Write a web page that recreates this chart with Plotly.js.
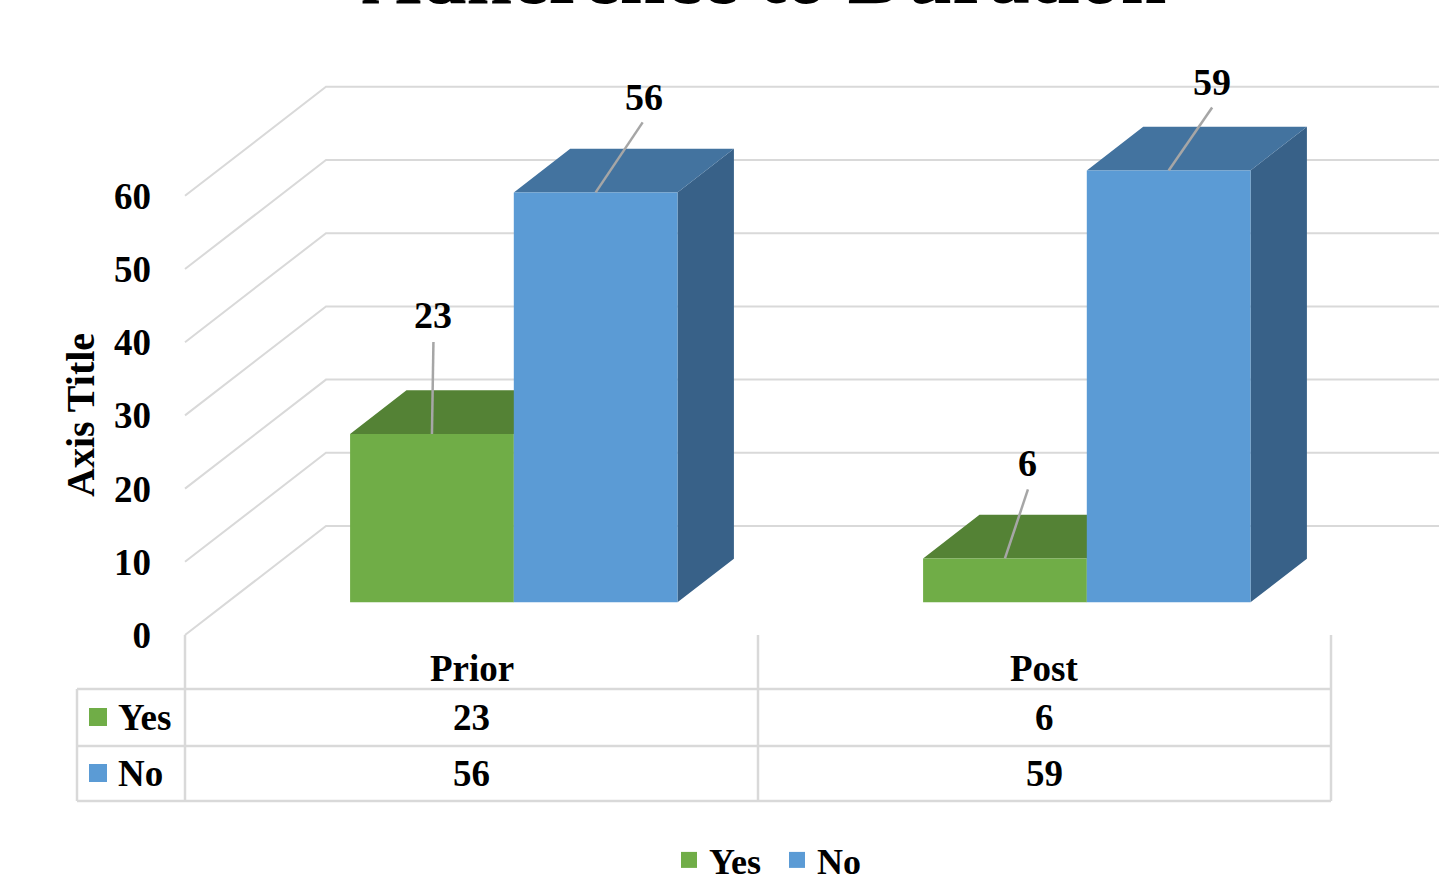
<!DOCTYPE html>
<html>
<head>
<meta charset="utf-8">
<script src="https://cdn.plot.ly/plotly-3.0.1.min.js"></script>
<style>
  html, body { margin: 0; padding: 0; background: #ffffff; }
  #chart { width: 1439px; height: 879px; }
</style>
</head>
<body>
<div id="chart"></div>
<script>
// ---- chart data ----
const categories = ['Prior', 'Post'];
const seriesNames = ['Yes', 'No'];
const yesValues = [23, 6];
const noValues = [56, 59];
const yTicks = [0, 10, 20, 30, 40, 50, 60];

// ---- styling ----
const FONT = 'Liberation Serif, Times New Roman, serif';
const GRID = '#d9d9d9';
const LEADER = '#a6a6a6';
const faceColors = [
  { front: '#70ad47', top: '#548235', side: '#4b7530' },   // Yes
  { front: '#5b9bd5', top: '#43739f', side: '#386188' }    // No
];
// manually placed data labels: pixel offsets from the bar's top edge centre
const labelOffsets = [
  [[1, -119], [23, -95]],   // Yes: Prior, Post
  [[48, -95], [43, -88]]    // No:  Prior, Post
];
const leaderEnds = [
  [[1.5, -92], [23, -69]],
  [[47, -70], [43.5, -63]]
];

// ---- oblique projection set-up ----
const W = 1439, H = 879;
const PX_PER_CAT = 573;      // front-plane pixels per category
const PX_PER_VAL = 7.32;     // front-plane pixels per value unit
const FLOOR_LEFT_PX = 185;   // left edge of the floor (front)
const ZERO_PX = 635;         // value 0 on the front plane
const WALL_DX_PX = 141, WALL_DY_PX = 109;  // full depth of the box
const depthX = WALL_DX_PX / PX_PER_CAT;
const depthY = WALL_DY_PX / PX_PER_VAL;
const BAR_W = 1 / 3.5;       // gap width 150%
const BAR_D0 = 0.30, BAR_D1 = 0.70;   // bar depth span (fraction of box)

const xRange = [-0.5 - FLOOR_LEFT_PX / PX_PER_CAT, -0.5 + (W - FLOOR_LEFT_PX) / PX_PER_CAT];
const yRange = [-(H - ZERO_PX) / PX_PER_VAL, ZERO_PX / PX_PER_VAL];
const pxToX = px => xRange[0] + px / PX_PER_CAT;
const pxToY = py => (ZERO_PX - py) / PX_PER_VAL;
const xToPaper = x => (x - xRange[0]) / (xRange[1] - xRange[0]);
const pyToPaper = py => 1 - py / H;
const project = (x, v, d) => [x + d * depthX, v + d * depthY];

const catIdx = categories.map((_, i) => i);
const lastCat = catIdx[catIdx.length - 1];
const seriesValues = [yesValues, noValues];

// ---- walls: gridlines on the side wall and the back wall ----
const gx = [], gy = [];
yTicks.forEach(t => {
  [project(-0.5, t, 0), project(-0.5, t, 1), project(lastCat + 0.5, t, 1)].forEach(p => {
    gx.push(p[0]); gy.push(p[1]);
  });
  gx.push(null); gy.push(null);
});
const traces = [{
  type: 'scatter', mode: 'lines', x: gx, y: gy,
  line: { color: GRID, width: 2 }, hoverinfo: 'skip', showlegend: false
}];

// ---- 3D columns ----
function poly(points, xs, ys) {
  points.forEach(p => { xs.push(p[0]); ys.push(p[1]); });
  xs.push(null); ys.push(null);
}
function faceTrace(xs, ys, color) {
  return {
    type: 'scatter', mode: 'lines', x: xs, y: ys, fill: 'toself',
    fillcolor: color, line: { width: 0, color: color },
    hoverinfo: 'skip', showlegend: false
  };
}
const ddx = (BAR_D1 - BAR_D0) * depthX, ddy = (BAR_D1 - BAR_D0) * depthY;
const labelAnnots = [];
const leader = { x: [], y: [] };
seriesValues.forEach((vals, s) => {
  const side = { x: [], y: [] }, top = { x: [], y: [] }, front = { x: [], y: [] };
  catIdx.forEach(c => {
    const v = vals[c];
    const [x0, yb] = project(c + (s - 1) * BAR_W, 0, BAR_D0);
    const x1 = x0 + BAR_W;
    const yt = yb + v;
    poly([[x1, yb], [x1, yt], [x1 + ddx, yt + ddy], [x1 + ddx, yb + ddy]], side.x, side.y);
    poly([[x0, yt], [x1, yt], [x1 + ddx, yt + ddy], [x0 + ddx, yt + ddy]], top.x, top.y);
    poly([[x0, yb], [x1, yb], [x1, yt], [x0, yt]], front.x, front.y);
    const xm = (x0 + x1) / 2;
    const end = leaderEnds[s][c];
    poly([[xm, yt], [xm + end[0] / PX_PER_CAT, yt - end[1] / PX_PER_VAL]], leader.x, leader.y);
    const off = labelOffsets[s][c];
    labelAnnots.push({
      xref: 'x', yref: 'y', x: xm, y: yt, xshift: off[0], yshift: -off[1],
      xanchor: 'center', yanchor: 'middle',
      text: String(v), showarrow: false,
      font: { family: FONT, size: 38, color: '#000', weight: 'bold' }
    });
  });
  traces.push(faceTrace(side.x, side.y, faceColors[s].side));
  traces.push(faceTrace(top.x, top.y, faceColors[s].top));
  traces.push(faceTrace(front.x, front.y, faceColors[s].front));
});
traces.push({
  type: 'scatter', mode: 'lines', x: leader.x, y: leader.y,
  line: { color: LEADER, width: 2.5 }, hoverinfo: 'skip', showlegend: false
});

// ---- data table ----
const TABLE_LEFT_PX = 77, KEY_PX = 98, ROWNAME_PX = 116;
const HEADER_PX = 668, ROW_PX = [717, 773];
const TABLE_LINES_PX = [689, 746, 801];
const tableRightPaper = xToPaper(lastCat + 0.5);
const shapes = [];
const lineStyle = { color: GRID, width: 2.5 };
[-0.5].concat(catIdx.map(c => c + 0.5)).forEach(xb => {
  shapes.push({ type: 'line', xref: 'x', yref: 'paper', x0: xb, x1: xb,
    y0: pyToPaper(ZERO_PX), y1: pyToPaper(TABLE_LINES_PX[2]), line: lineStyle });
});
shapes.push({ type: 'line', xref: 'paper', yref: 'paper',
  x0: TABLE_LEFT_PX / W, x1: TABLE_LEFT_PX / W,
  y0: pyToPaper(TABLE_LINES_PX[0]), y1: pyToPaper(TABLE_LINES_PX[2]), line: lineStyle });
TABLE_LINES_PX.forEach(py => {
  shapes.push({ type: 'line', xref: 'paper', yref: 'paper',
    x0: TABLE_LEFT_PX / W, x1: tableRightPaper, y0: pyToPaper(py), y1: pyToPaper(py), line: lineStyle });
});

const tableFont = { family: FONT, size: 37, color: '#000', weight: 'bold' };
const tableAnnots = [];
catIdx.forEach(c => {
  tableAnnots.push({ xref: 'x', yref: 'paper', x: c, y: pyToPaper(HEADER_PX),
    text: categories[c], showarrow: false, font: tableFont, xanchor: 'center', yanchor: 'middle' });
  seriesValues.forEach((vals, s) => {
    tableAnnots.push({ xref: 'x', yref: 'paper', x: c, y: pyToPaper(ROW_PX[s]),
      text: String(vals[c]), showarrow: false,
      font: tableFont, xanchor: 'center', yanchor: 'middle' });
  });
});
seriesNames.forEach((name, s) => {
  tableAnnots.push({ xref: 'paper', yref: 'paper', x: ROWNAME_PX / W, y: pyToPaper(ROW_PX[s]),
    text: name, showarrow: false, font: tableFont, xanchor: 'left', yanchor: 'middle' });
  // legend keys of the table rows, also used by the legend below the chart
  traces.push({
    type: 'scatter', mode: 'markers', name: name,
    x: [pxToX(KEY_PX)], y: [pxToY(ROW_PX[s])],
    marker: { symbol: 'square', size: 18, color: faceColors[s].front, line: { width: 0 } },
    hoverinfo: 'skip', showlegend: true, cliponaxis: false
  });
});

const axisTitle = {
  xref: 'paper', yref: 'paper', x: 80 / W, y: pyToPaper(415),
  xanchor: 'center', yanchor: 'middle',
  text: 'Axis Title', textangle: -90, showarrow: false,
  font: { family: FONT, size: 40, color: '#000', weight: 'bold' }
};

const layout = {
  width: W, height: H,
  margin: { l: 0, r: 0, t: 0, b: 0, autoexpand: false },
  paper_bgcolor: '#ffffff', plot_bgcolor: 'rgba(0,0,0,0)',
  title: {
    text: 'Adherence to Duration', x: 764 / W, xanchor: 'center',
    y: pyToPaper(3), yref: 'container', yanchor: 'bottom',
    font: { family: FONT, size: 82, color: '#000', weight: 'bold' }
  },
  xaxis: { range: xRange, visible: false, fixedrange: true },
  yaxis: {
    range: yRange, anchor: 'free', position: FLOOR_LEFT_PX / W,
    tickvals: yTicks, ticktext: yTicks.map(String), ticks: '',
    showgrid: false, zeroline: false, showline: false, ticklabelstandoff: 34,
    tickfont: { family: FONT, size: 37, color: '#000', weight: 'bold' },
    fixedrange: true
  },
  showlegend: true,
  legend: {
    orientation: 'h', x: 669 / W, xanchor: 'left', y: pyToPaper(860), yanchor: 'middle',
    font: { family: FONT, size: 36, color: '#000', weight: 'bold' },
    bgcolor: 'rgba(0,0,0,0)', itemsizing: 'trace', traceorder: 'normal',
    entrywidth: 63, entrywidthmode: 'pixels'
  },
  shapes: shapes,
  annotations: labelAnnots.concat(tableAnnots, [axisTitle])
};

Plotly.newPlot('chart', traces, layout, { displayModeBar: false, staticPlot: true });
</script>
</body>
</html>
